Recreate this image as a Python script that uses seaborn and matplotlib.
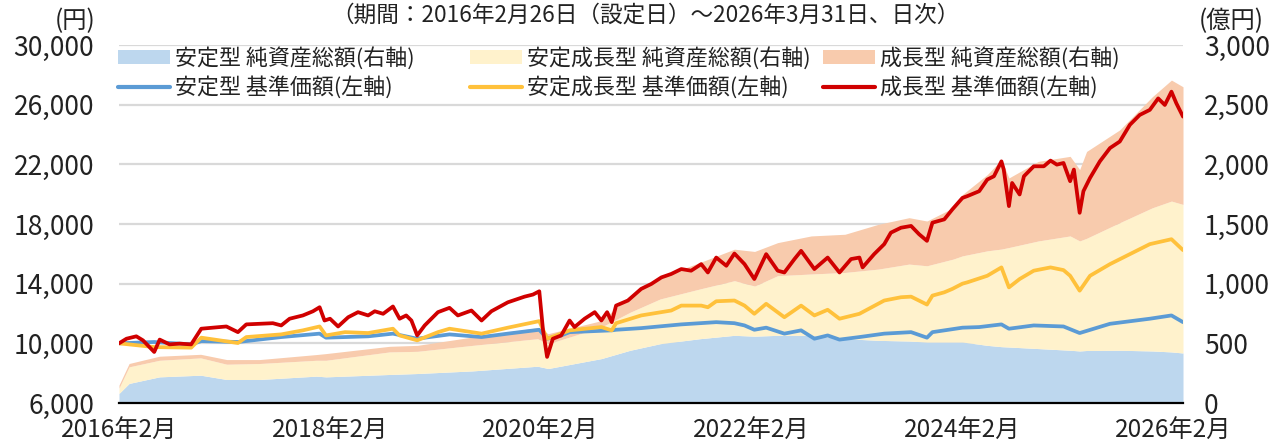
import pandas as pd
import matplotlib
matplotlib.use("Agg")
import matplotlib.pyplot as plt
from matplotlib.patches import Patch
from matplotlib.lines import Line2D
import seaborn as sns

# --- 基準価額（左軸, 円） ---
red_dates = [
    "2016-02-26", "2016-03-23", "2016-04-26", "2016-05-19", "2016-06-27", "2016-07-16", "2016-08-19", "2016-09-23", "2016-11-02", "2016-12-07",
    "2017-01-16", "2017-03-04", "2017-04-13", "2017-05-12", "2017-06-27", "2017-08-12", "2017-09-10", "2017-10-09", "2017-11-24", "2017-12-29",
    "2018-01-21", "2018-02-07", "2018-02-26", "2018-03-26", "2018-04-30", "2018-06-03", "2018-07-08", "2018-07-31", "2018-08-29", "2018-10-02",
    "2018-10-25", "2018-11-17", "2018-12-05", "2018-12-25", "2019-01-20", "2019-03-07", "2019-04-16", "2019-05-15", "2019-07-01", "2019-08-05",
    "2019-09-08", "2019-11-04", "2020-01-01", "2020-01-30", "2020-02-21", "2020-03-05", "2020-03-19", "2020-04-08", "2020-05-07", "2020-06-05",
    "2020-06-22", "2020-07-27", "2020-08-31", "2020-09-23", "2020-10-13", "2020-10-29", "2020-11-13", "2020-12-24", "2021-02-08", "2021-03-15",
    "2021-04-19", "2021-05-23", "2021-06-27", "2021-07-31", "2021-09-04", "2021-09-27", "2021-10-26", "2021-11-30", "2021-12-28", "2022-02-01",
    "2022-03-07", "2022-04-17", "2022-05-27", "2022-06-19", "2022-07-24", "2022-08-16", "2022-10-01", "2022-11-16", "2022-12-27", "2023-02-05",
    "2023-03-06", "2023-03-17", "2023-04-26", "2023-05-31", "2023-06-23", "2023-07-28", "2023-09-01", "2023-09-29", "2023-10-26", "2023-11-14",
    "2023-12-25", "2024-01-22", "2024-02-26", "2024-03-14", "2024-04-24", "2024-05-22", "2024-06-14", "2024-07-10", "2024-07-18", "2024-08-05",
    "2024-08-16", "2024-09-11", "2024-09-26", "2024-10-30", "2024-12-04", "2024-12-27", "2025-01-18", "2025-02-10", "2025-03-05", "2025-03-18",
    "2025-04-07", "2025-04-20", "2025-05-13", "2025-06-16", "2025-07-21", "2025-08-24", "2025-09-28", "2025-11-01", "2025-12-06", "2026-01-04",
    "2026-01-27", "2026-02-19", "2026-03-08", "2026-03-31",
]
red_nav = [
    10000, 10310, 10470, 10200, 9420, 10250, 9930, 9980, 9930, 10980,
    11050, 11130, 10750, 11270, 11310, 11350, 11200, 11650, 11870, 12150,
    12420, 11530, 11650, 11130, 11750, 12090, 11870, 12150, 11980, 12470,
    11650, 11870, 11530, 10530, 11200, 12090, 12380, 11870, 12200, 11530,
    12150, 12750, 13130, 13270, 13490, 10870, 9090, 10310, 10530, 11530,
    11090, 11650, 12090, 11530, 12090, 11420, 12530, 12870, 13650, 13980,
    14420, 14650, 14980, 14870, 15310, 14750, 15750, 15200, 16020, 15310,
    14310, 15980, 14870, 14750, 15650, 16200, 14980, 15750, 14750, 15650,
    15750, 15090, 15980, 16650, 17420, 17750, 17870, 17310, 16870, 18090,
    18310, 18980, 19750, 19870, 20200, 20980, 21200, 22200, 21650, 19200,
    20750, 19980, 21200, 21870, 21870, 22250, 21980, 22090, 20870, 21650,
    18750, 20200, 21090, 22200, 23090, 23530, 24650, 25310, 25650, 26420,
    25980, 26870, 26090, 25200,
]

yellow_dates = [
    "2016-02-26", "2016-06-27", "2016-11-02", "2016-12-07", "2017-04-13", "2017-05-12", "2017-09-10", "2017-11-24", "2018-01-21", "2018-02-12",
    "2018-04-19", "2018-07-08", "2018-10-02", "2018-10-25", "2018-12-25", "2019-03-07", "2019-04-16", "2019-08-05", "2019-11-04", "2020-02-21",
    "2020-03-19", "2020-05-07", "2020-06-05", "2020-09-23", "2020-10-29", "2020-11-13", "2021-02-08", "2021-05-23", "2021-06-27", "2021-09-04",
    "2021-09-27", "2021-10-26", "2021-12-28", "2022-02-01", "2022-03-07", "2022-04-17", "2022-06-19", "2022-08-16", "2022-10-01", "2022-11-16",
    "2022-12-27", "2023-03-06", "2023-05-31", "2023-07-28", "2023-09-01", "2023-10-26", "2023-11-14", "2023-12-25", "2024-01-22", "2024-02-26",
    "2024-03-14", "2024-05-22", "2024-07-10", "2024-08-05", "2024-09-11", "2024-10-30", "2024-12-27", "2025-02-10", "2025-03-05", "2025-04-07",
    "2025-05-13", "2025-07-21", "2025-09-28", "2025-12-06", "2026-02-19", "2026-03-31",
]
yellow_nav = [
    10000, 9750, 9710, 10380, 10020, 10420, 10600, 10870, 11130, 10530,
    10750, 10690, 10980, 10530, 10200, 10750, 10980, 10650, 11050, 11490,
    10310, 10650, 10870, 11090, 10870, 11350, 11870, 12200, 12530, 12530,
    12420, 12820, 12870, 12530, 11980, 12650, 11750, 12530, 11870, 12250,
    11650, 11980, 12870, 13090, 13130, 12600, 13200, 13420, 13650, 14000,
    14090, 14530, 15090, 13750, 14310, 14870, 15090, 14910, 14530, 13530,
    14530, 15310, 15980, 16650, 16980, 16250,
]

blue_dates = [
    "2016-02-26", "2016-06-27", "2016-11-02", "2016-12-07", "2017-04-13", "2017-09-10", "2018-01-21", "2018-02-12", "2018-07-08", "2018-10-02",
    "2018-12-25", "2019-04-16", "2019-08-05", "2019-11-04", "2020-02-21", "2020-03-19", "2020-05-07", "2020-06-05", "2020-10-29", "2020-11-13",
    "2021-02-08", "2021-06-27", "2021-10-26", "2021-12-28", "2022-02-01", "2022-03-07", "2022-04-17", "2022-06-19", "2022-08-16", "2022-10-01",
    "2022-11-16", "2022-12-27", "2023-03-06", "2023-05-31", "2023-09-01", "2023-10-26", "2023-11-14", "2024-02-26", "2024-04-24", "2024-07-10",
    "2024-08-05", "2024-10-30", "2025-02-10", "2025-04-07", "2025-07-21", "2025-12-06", "2026-02-19", "2026-03-31",
]
blue_nav = [
    10000, 10090, 9930, 10150, 10090, 10420, 10650, 10380, 10470, 10650,
    10310, 10600, 10420, 10650, 10910, 10310, 10530, 10750, 10870, 10910,
    11020, 11270, 11420, 11350, 11200, 10910, 11050, 10650, 10870, 10310,
    10530, 10250, 10420, 10650, 10750, 10380, 10750, 11050, 11090, 11270,
    10980, 11200, 11130, 10690, 11310, 11650, 11870, 11420,
]

# --- 純資産総額（右軸, 億円） ---
aum_dates = [
    "2016-02-26", "2016-04-01", "2016-07-15", "2016-12-05", "2017-03-05", "2017-06-27", "2018-01-10", "2018-02-12", "2018-09-20", "2018-12-26",
    "2019-07-05", "2020-02-15", "2020-03-23", "2020-09-23", "2021-01-01", "2021-04-15", "2021-08-31", "2021-12-28", "2022-03-08", "2022-05-27",
    "2022-09-20", "2023-01-15", "2023-05-10", "2023-08-25", "2023-10-26", "2024-01-25", "2024-02-26", "2024-05-22", "2024-07-10", "2024-08-05",
    "2024-11-15", "2025-03-05", "2025-04-07", "2025-05-01", "2025-08-24", "2025-12-15", "2026-02-19", "2026-03-31",
]
aum_stable = [80, 164, 219, 233, 197, 197, 225, 219, 239, 247,
              269, 308, 289, 372, 442, 497, 539, 567, 560, 567,
              567, 539, 525, 519, 511, 511, 511, 483, 472, 469,
              456, 442, 436, 440, 442, 436, 428, 419]
aum_balanced = [45, 139, 139, 145, 128, 134, 133, 139, 189, 186,
                214, 231, 208, 264, 319, 375, 417, 458, 420, 500,
                514, 555, 597, 645, 639, 695, 722, 792, 818, 834,
                902, 958, 922, 940, 1069, 1200, 1264, 1245]
aum_growth = [25, 28, 34, 30, 39, 33, 48, 56, 47, 50,
              70, 92, 84, 54, 139, 181, 222, 264, 290, 277,
              319, 320, 375, 389, 375, 430, 514, 639, 749, 583,
              667, 667, 598, 728, 778, 931, 1014, 986]

tick_years = [2016, 2018, 2020, 2022, 2024, 2026]

names = ["安定型", "安定成長型", "成長型"]
area_colors = ["#BDD7EE", "#FFF2CC", "#F8CBAD"]
line_colors = ["#5B9BD5", "#FFC13B", "#D00000"]
text_color = "#222222"

sns.set_style("white")
plt.rcParams['font.family'] = ['Noto Sans CJK JP', 'DejaVu Sans']

W, H = 1283, 445
fig, ax = plt.subplots(figsize=(W / 100, H / 100), dpi=100)
fig.subplots_adjust(left=119 / W, right=1183 / W, bottom=42 / H, top=400 / H)
ax2 = ax.twinx()

# 面グラフ（右軸）を下に、折れ線（左軸）を上に
ax.set_zorder(ax2.get_zorder() + 1)
ax.patch.set_visible(False)

x_aum = pd.to_datetime(aum_dates)
ax2.stackplot(x_aum, aum_stable, aum_balanced, aum_growth, colors=area_colors, linewidth=0, zorder=2)

for dates, vals, col in [(blue_dates, blue_nav, line_colors[0]),
                         (yellow_dates, yellow_nav, line_colors[1]),
                         (red_dates, red_nav, line_colors[2])]:
    sns.lineplot(x=pd.to_datetime(dates), y=vals, ax=ax, color=col, linewidth=2.7)

ax.set_xlim(pd.Timestamp("2016-02-26"), pd.Timestamp("2026-03-31"))
ax.set_ylim(6000, 30000)
ax2.set_ylim(0, 3000)
ax.set_yticks(range(6000, 30001, 4000))
ax2.set_yticks(range(0, 3001, 500))
ax.yaxis.set_major_formatter(matplotlib.ticker.FuncFormatter(lambda v, p: f"{int(v):,}"))
ax2.yaxis.set_major_formatter(matplotlib.ticker.FuncFormatter(lambda v, p: f"{int(v):,}"))

ticks = [pd.Timestamp(f"{y}-02-26") for y in tick_years]
ax.set_xticks(ticks)
ax.set_xticklabels([f"{y}年2月" for y in tick_years])

# グリッドは面の後ろ
ax2.set_axisbelow(True)
ax2.grid(axis='y', color='#d9d9d9', linewidth=1.6)
ax2.grid(axis='x', visible=False)
ax.grid(False)

for a in (ax, ax2):
    for side in ['top', 'left', 'right', 'bottom']:
        a.spines[side].set_visible(False)
ax.spines['bottom'].set_visible(True)
ax.spines['bottom'].set_color('black')
ax.spines['bottom'].set_linewidth(1.6)

ax.tick_params(axis='x', direction='out', length=6, width=1.2, color='black', labelsize=17.5, labelcolor=text_color, pad=5)
ax.tick_params(axis='y', length=0, labelsize=19, labelcolor=text_color, pad=18)
ax2.tick_params(axis='y', length=0, labelsize=19, labelcolor=text_color, pad=15)
ax.set_xlabel("")
ax.set_ylabel("")
ax2.set_ylabel("")

fig.text(75 / W, 1 - 21 / H, "(円)", ha='center', va='center', fontsize=17.5, color=text_color)
fig.text(1231 / W, 1 - 21 / H, "(億円)", ha='center', va='center', fontsize=17.5, color=text_color)
fig.text(645 / W, 1 - 15 / H, "（期間：2016年2月26日（設定日）～2026年3月31日、日次）",
         ha='center', va='center', fontsize=16.3, color=text_color)

# 凡例は列ごとに配置（列幅が不均一なため）
for i, x0 in enumerate([118, 470, 823]):
    hs = [Patch(facecolor=area_colors[i], edgecolor='none'),
          Line2D([0], [0], color=line_colors[i], linewidth=3)]
    ls = [f"{names[i]} 純資産総額(右軸)", f"{names[i]} 基準価額(左軸)"]
    leg = fig.legend(hs, ls, loc='upper left', bbox_to_anchor=(x0 / W, 1 - 47 / H),
                     frameon=False, fontsize=15.8, handlelength=2.35, handleheight=0.6,
                     handletextpad=0.25, labelspacing=0.3, borderaxespad=0.0, borderpad=0.0)
    for t in leg.get_texts():
        t.set_color(text_color)

plt.savefig("out.png", dpi=100)
